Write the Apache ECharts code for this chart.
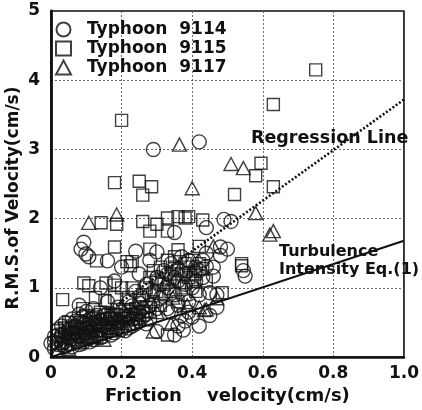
<!DOCTYPE html>
<html>
<head>
<meta charset="utf-8">
<script src="https://cdn.jsdelivr.net/npm/echarts@6/dist/echarts.min.js"></script>
<style>
  html, body { margin: 0; padding: 0; background: #fff; }
  #chart { width: 422px; height: 410px; }
</style>
</head>
<body>
<div id="chart"></div>
<script>
// Friction velocity (cm/s) vs. RMS of velocity (cm/s), three typhoons
const typhoon9114 = [
  [0.01,0.12],[0.02,0.25],[0.03,0.18],[0.03,0.32],[0.04,0.22],[0.05,0.28],[0.05,0.40],[0.06,0.15],
  [0.06,0.34],[0.07,0.24],[0.07,0.45],[0.08,0.30],[0.08,0.38],[0.09,0.20],[0.09,0.50],[0.10,0.28],
  [0.10,0.42],[0.11,0.35],[0.11,0.55],[0.12,0.25],[0.12,0.46],[0.13,0.32],[0.13,0.60],[0.14,0.40],
  [0.14,0.52],[0.15,0.30],[0.15,0.45],[0.16,0.38],[0.16,0.62],[0.17,0.48],[0.18,0.35],[0.18,0.55],
  [0.19,0.42],[0.20,0.50],[0.20,0.65],[0.21,0.38],[0.22,0.58],[0.23,0.45],[0.24,0.62],[0.25,0.52],
  [0.26,0.70],[0.27,0.48],[0.02,0.40],[0.04,0.50],[0.06,0.55],[0.01,0.30],[0.08,0.62],[0.10,0.66],
  [0.00,0.20],[0.12,0.70],
  [0.02,0.18],[0.03,0.45],[0.04,0.35],[0.05,0.20],[0.06,0.42],[0.07,0.36],[0.08,0.18],[0.09,0.32],
  [0.09,0.58],[0.10,0.35],[0.11,0.22],[0.11,0.44],[0.12,0.55],[0.13,0.38],[0.14,0.28],[0.15,0.60],
  [0.16,0.50],[0.17,0.32],[0.17,0.56],[0.18,0.44],[0.19,0.60],[0.20,0.40],[0.21,0.55],[0.22,0.42],
  [0.23,0.55],[0.24,0.48],[0.25,0.65],[0.26,0.58],[0.27,0.62],[0.28,0.55],[0.02,0.32],[0.07,0.52],
  [0.13,0.50],[0.19,0.50],[0.04,0.15],[0.01,0.22],
  [0.22,0.80],[0.24,0.95],[0.26,0.85],[0.27,1.05],[0.28,0.75],[0.29,0.95],[0.30,1.15],[0.31,0.85],
  [0.32,1.25],[0.33,0.70],[0.33,1.00],[0.34,1.35],[0.35,0.90],[0.36,1.10],[0.37,0.60],[0.37,1.45],
  [0.38,1.20],[0.39,0.80],[0.40,1.00],[0.41,1.30],[0.42,0.90],[0.43,1.15],[0.44,1.31],[0.44,1.50],
  [0.45,0.93],[0.46,1.17],[0.47,0.90],[0.48,1.59],[0.48,1.47],[0.50,1.56],[0.545,1.25],[0.55,1.17],
  [0.44,1.87],[0.49,1.99],[0.51,1.96],[0.29,3.00],[0.42,3.11],
  [0.31,1.05],[0.33,1.20],[0.35,1.15],[0.38,1.05],[0.39,1.40],[0.41,1.10],[0.42,1.25],[0.36,0.75],
  [0.34,0.65],[0.30,0.70],[0.28,0.90],[0.25,0.78],[0.43,1.40],[0.46,1.30],[0.39,0.65],
  [0.30,0.37],[0.35,0.32],[0.375,0.39],[0.40,0.58],[0.38,0.52],[0.42,0.45],[0.45,0.60],[0.47,0.72],
  [0.36,0.45],
  [0.085,1.56],[0.093,1.66],[0.099,1.49],[0.107,1.45],[0.16,1.39],[0.24,1.53],[0.30,1.52],[0.35,1.80],
  [0.20,1.30],[0.28,1.40],[0.18,1.10],[0.14,1.00],[0.25,1.20],
  [0.16,0.80],[0.19,0.72],[0.08,0.75],[0.23,0.74]
];
const typhoon9115 = [
  [0.20,3.42],[0.75,4.15],[0.63,3.65],[0.595,2.80],[0.58,2.62],[0.63,2.46],[0.52,2.35],[0.38,2.01],
  [0.43,1.98],[0.54,1.35],[0.18,2.52],[0.25,2.54],[0.285,2.46],[0.26,2.34],[0.142,1.94],[0.186,1.92],
  [0.129,1.39],[0.18,1.59],[0.215,1.38],[0.23,1.38],[0.033,0.83],[0.26,1.96],[0.30,1.92],[0.33,2.01],
  [0.36,2.03],[0.39,2.03],[0.28,1.82],[0.33,1.82],[0.28,1.56],[0.225,1.32],[0.093,1.07],[0.107,1.03],
  [0.156,1.07],[0.18,1.04],[0.126,0.86],[0.153,0.82],[0.18,0.86],[0.22,0.86],[0.25,0.82],[0.43,1.28],
  [0.485,0.93],[0.54,1.32],[0.33,0.32],
  [0.27,1.00],[0.30,1.10],[0.32,0.90],[0.34,1.20],[0.35,1.30],[0.36,0.80],[0.37,1.00],[0.38,1.35],
  [0.39,1.15],[0.40,1.40],[0.41,0.95],[0.42,1.60],[0.36,1.55],[0.31,1.30],[0.29,0.80],[0.26,0.65],
  [0.24,0.70],
  [0.30,0.95],[0.32,1.05],[0.33,1.40],[0.34,0.95],[0.35,1.10],[0.36,1.25],[0.37,1.20],[0.38,0.90],
  [0.39,1.30],[0.40,1.10],[0.41,1.20],[0.42,1.35],[0.44,1.10],[0.28,1.15],[0.29,1.25],[0.31,0.75],
  [0.26,0.90],[0.23,1.00],[0.20,1.00],[0.35,1.45],
  [0.03,0.20],[0.05,0.35],[0.07,0.30],[0.09,0.42],[0.10,0.25],[0.11,0.50],[0.12,0.38],[0.13,0.45],
  [0.14,0.33],[0.15,0.55],[0.16,0.42],[0.17,0.60],[0.18,0.48],[0.19,0.38],[0.20,0.56],[0.21,0.68],
  [0.22,0.48],[0.23,0.62],[0.08,0.50],[0.06,0.45],[0.04,0.28],[0.02,0.38],[0.10,0.60],[0.14,0.65],
  [0.09,0.70],
  [0.04,0.42],[0.06,0.25],[0.07,0.40],[0.08,0.35],[0.09,0.28],[0.10,0.48],[0.11,0.30],[0.12,0.58],
  [0.13,0.28],[0.14,0.48],[0.15,0.38],[0.16,0.55],[0.17,0.42],[0.18,0.62],[0.19,0.52],[0.20,0.44],
  [0.21,0.60],[0.22,0.66],[0.24,0.56],[0.25,0.60],[0.27,0.72],[0.28,0.66],[0.05,0.50],[0.03,0.30]
];
const typhoon9117 = [
  [0.51,2.79],[0.545,2.73],[0.40,2.44],[0.58,2.08],[0.62,1.77],[0.63,1.82],[0.364,3.07],[0.107,1.94],
  [0.186,2.06],[0.345,0.86],[0.386,0.75],[0.42,0.72],[0.44,0.69],[0.29,0.37],[0.34,0.48],[0.435,0.68],
  [0.02,0.10],[0.05,0.12],[0.08,0.22],[0.12,0.30],[0.15,0.25],[0.30,0.65],[0.33,1.15],[0.46,1.60],
  [0.40,1.25],[0.25,0.55],[0.47,0.85]
];
// Fitted regression line and turbulence-intensity line (Eq. 1)
const regressionLine = [[0, 0.07], [1.0, 3.72]];
const turbulenceLine = [[0, 0], [1.0, 1.68]];
const xTicks = [0, 0.2, 0.4, 0.6, 0.8, 1.0];
const yTicks = [0, 1, 2, 3, 4, 5];

const FONT = 'DejaVu Sans';
const INK = '#111';

const chart = echarts.init(document.getElementById('chart'), null, { renderer: 'canvas' });

const scatterBase = {
  type: 'scatter',
  itemStyle: { color: 'rgba(0,0,0,0)', borderColor: INK, borderWidth: 1.4 },
  emphasis: { disabled: true },
  z: 3
};

chart.setOption({
  animation: false,
  backgroundColor: '#fff',
  grid: { left: 51, right: 6, top: 11, bottom: 44, show: true, borderColor: INK, borderWidth: 1.6 },
  legend: {
    orient: 'vertical',
    left: 55,
    top: 21,
    padding: 0,
    itemGap: 2,
    itemWidth: 15,
    itemHeight: 14,
    selectedMode: false,
    textStyle: { fontFamily: FONT, fontWeight: 'bold', fontSize: 17, color: INK, lineHeight: 15, padding: [0, 0, 0, 11] },
    data: ['Typhoon  9114', 'Typhoon  9115', 'Typhoon  9117']
  },
  xAxis: {
    type: 'value',
    min: 0, max: 1.0, interval: 0.2,
    name: 'Friction    velocity(cm/s)',
    nameLocation: 'middle',
    nameGap: 21,
    nameTextStyle: { fontFamily: FONT, fontWeight: 'bold', fontSize: 18, color: INK, verticalAlign: 'top' },
    axisLine: { show: true, onZero: false, lineStyle: { color: INK, width: 2.6 } },
    axisTick: { show: false },
    axisLabel: {
      fontFamily: FONT, fontWeight: 'bold', fontSize: 17, color: INK, margin: 8,
      showMaxLabel: true, showMinLabel: true,
      formatter: v => (xTicks.includes(+v.toFixed(1)) ? (v === 0 ? '0' : v.toFixed(1)) : '')
    },
    splitLine: { show: true, lineStyle: { color: '#444', type: [2, 2], width: 0.8 } }
  },
  yAxis: {
    type: 'value',
    min: 0, max: 5, interval: 1,
    axisLine: { show: true, onZero: false, lineStyle: { color: INK, width: 2.8 } },
    axisTick: { show: false },
    axisLabel: {
      fontFamily: FONT, fontWeight: 'bold', fontSize: 17, color: INK, margin: 11,
      formatter: v => (yTicks.includes(v) ? String(v) : '')
    },
    splitLine: { show: true, lineStyle: { color: '#444', type: [2, 2], width: 0.8 } }
  },
  graphic: [
    {
      type: 'text', x: 14, y: 198, rotation: Math.PI / 2,
      style: { text: 'R.M.S.of Velocity(cm/s)', fontFamily: FONT, fontWeight: 'bold', fontSize: 17,
               fill: INK, align: 'center', verticalAlign: 'middle' }
    },
    {
      type: 'text', x: 251, y: 138, z: 10,
      style: { text: 'Regression Line', fontFamily: FONT, fontWeight: 'bold', fontSize: 17.5,
               fill: INK, align: 'left', verticalAlign: 'middle' }
    },
    {
      type: 'text', x: 279, y: 252, z: 10,
      style: { text: 'Turbulence', fontFamily: FONT, fontWeight: 'bold', fontSize: 16,
               fill: INK, align: 'left', verticalAlign: 'middle' }
    },
    {
      type: 'text', x: 279, y: 270, z: 10,
      style: { text: 'Intensity Eq.(1)', fontFamily: FONT, fontWeight: 'bold', fontSize: 16,
               fill: INK, align: 'left', verticalAlign: 'middle' }
    }
  ],
  series: [
    Object.assign({}, scatterBase, { name: 'Typhoon  9114', symbol: 'circle', symbolSize: 14, data: typhoon9114 }),
    Object.assign({}, scatterBase, { name: 'Typhoon  9115', symbol: 'rect', symbolSize: 12, data: typhoon9115 }),
    Object.assign({}, scatterBase, { name: 'Typhoon  9117', symbol: 'triangle', symbolSize: [14, 13], data: typhoon9117 }),
    {
      type: 'line', name: 'regression', data: regressionLine, showSymbol: false, symbol: 'none',
      lineStyle: { color: INK, width: 2.6, type: [2, 2] }, emphasis: { disabled: true }, z: 4, silent: true
    },
    {
      type: 'line', name: 'turbulence', data: turbulenceLine, showSymbol: false, symbol: 'none',
      lineStyle: { color: INK, width: 2 }, emphasis: { disabled: true }, z: 4, silent: true
    }
  ]
});
</script>
</body>
</html>
